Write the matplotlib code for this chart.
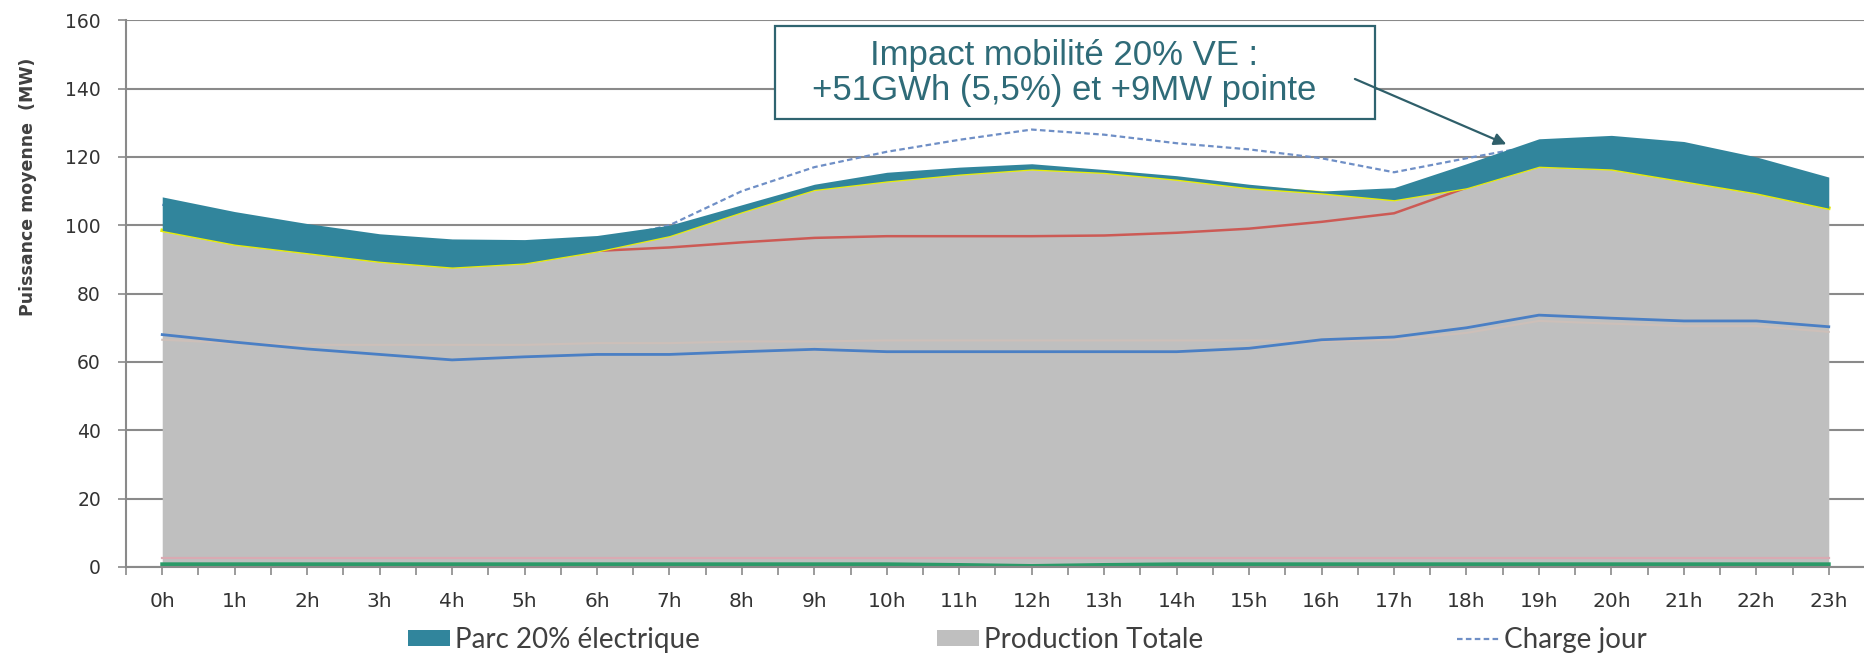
import matplotlib.pyplot as plt
from matplotlib.patches import Patch, Rectangle
from matplotlib.lines import Line2D

# Données (MW)
heures = list(range(24))
etiquettes = [f"{h}h" for h in heures]

production_totale = [98.5, 94.5, 92.0, 89.5, 87.8, 89.0, 92.5, 97.0, 104.0, 110.5, 113.0, 115.0,
                     116.5, 115.5, 113.5, 111.0, 109.5, 107.5, 111.0, 117.3, 116.5, 113.0, 109.5, 105.0]
parc_20_total = [108.3, 104.0, 100.5, 97.5, 96.0, 95.8, 97.0, 100.0, 106.0, 112.0, 115.5, 117.0,
                 118.0, 116.3, 114.5, 112.0, 110.0, 111.0, 118.0, 125.3, 126.3, 124.5, 120.0, 114.1]
charge_jour = [106.0, 102.0, 98.5, 95.5, 94.0, 94.0, 95.0, 100.0, 110.0, 117.0, 121.5, 125.0,
               128.0, 126.5, 124.0, 122.2, 119.6, 115.5, 119.6, 123.5, 124.0, 122.0, 117.0, 111.0]
serie_rouge = [98.5, 94.5, 92.0, 89.5, 87.8, 89.0, 92.5, 93.5, 95.0, 96.3, 96.8, 96.8,
               96.8, 97.0, 97.8, 99.0, 101.0, 103.5, 111.0, 117.3, 116.5, 113.0, 109.5, 105.0]
serie_bleue = [68.0, 65.8, 63.8, 62.2, 60.6, 61.5, 62.2, 62.2, 63.0, 63.7, 63.0, 63.0,
               63.0, 63.0, 63.0, 64.0, 66.5, 67.3, 70.0, 73.7, 72.8, 72.0, 72.0, 70.3]
serie_peche = [66.5, 65.5, 65.0, 65.0, 65.0, 65.0, 65.5, 65.5, 66.0, 66.0, 66.3, 66.3,
               66.3, 66.3, 66.3, 66.3, 66.0, 66.5, 68.5, 72.0, 71.2, 70.5, 70.5, 68.8]
serie_rose = [2.5] * 24
serie_verte = [0.8, 0.8, 0.8, 0.8, 0.8, 0.8, 0.8, 0.8, 0.8, 0.8, 0.8, 0.6,
               0.3, 0.6, 0.8, 0.8, 0.8, 0.8, 0.8, 0.8, 0.8, 0.8, 0.8, 0.8]

gris_axe = '#8a8a8a'
teal = '#31859c'

fig = plt.figure(figsize=(18.65, 6.54), dpi=100)
ax = fig.add_axes([126 / 1865, 1 - 567 / 654, 1 - 126 / 1865, (567 - 20.2) / 654])

ax.fill_between(heures, 0, production_totale, color='#bfbfbf', lw=0, zorder=1)
ax.plot(heures, serie_peche, color='#cdbfb9', lw=1.5, zorder=2)
ax.plot(heures, serie_bleue, color='#4a7fc4', lw=2.0, zorder=2)
ax.plot(heures, serie_rose, color='#d9aab2', lw=1.6, zorder=2)
ax.plot(heures, serie_verte, color='#2a9a68', lw=2.8, zorder=2)
ax.plot(heures, serie_rouge, color='#cc5a55', lw=1.8, zorder=2)
ax.plot(heures, production_totale, color='#e6ee08', lw=2.6, zorder=2)
ax.plot(heures, charge_jour, color='#6f8fc6', lw=1.6, ls=(0, (2.5, 1.5)), zorder=3)
ax.fill_between(heures, production_totale, parc_20_total, color=teal, lw=0, zorder=4)

ax.set_xlim(-0.5, 23.24)
ax.set_ylim(0, 160)
ax.set_yticks(range(0, 161, 20))
ax.set_xticks(heures)
ax.set_xticklabels(etiquettes)
ax.set_xticks([h + 0.5 for h in range(-1, 24)], minor=True)
ax.yaxis.grid(True, color=gris_axe, lw=1.5)
ax.set_axisbelow(True)

for s in ['top', 'right']:
    ax.spines[s].set_visible(False)
for s in ['left', 'bottom']:
    ax.spines[s].set_color(gris_axe)
    ax.spines[s].set_linewidth(1.5)

ax.tick_params(axis='y', length=6, width=1.2, color=gris_axe, labelsize=13.5, pad=12, labelcolor='#333333')
ax.tick_params(axis='x', which='both', length=6, width=1.2, color=gris_axe)
ax.tick_params(axis='x', labelsize=14.5, pad=12, labelcolor='#333333')

fig.text(28 / 1865, 1 - 187 / 654, 'Puissance moyenne  (MW)', rotation=90, ha='center', va='center',
         fontsize=12.5, fontweight='bold', color='#404040')

# Encadré
ax.add_patch(Rectangle((8.45, 131), 8.29, 27.2, facecolor='white', edgecolor='#2f6470',
                       lw=1.6, zorder=6, clip_on=False))
ax.text(12.45, 144.6, 'Impact mobilité 20% VE :\n+51GWh (5,5%) et +9MW pointe', ha='center', va='center',
        fontsize=25, family='Liberation Sans', color='#2f6b78', linespacing=1.06, zorder=7)
ax.annotate('', xy=(18.55, 123.7), xytext=(16.46, 142.8),
            arrowprops=dict(arrowstyle='-|>', color='#2f5f6a', lw=1.6, mutation_scale=18,
                            shrinkA=0, shrinkB=0), zorder=8)

# Légende
entrees = [
    (Patch(facecolor=teal), 'Parc 20% électrique', 408),
    (Patch(facecolor='#bfbfbf'), 'Production Totale', 937),
    (Line2D([], [], color='#6f8fc6', lw=1.6, ls=(0, (2.5, 1.5))), 'Charge jour', 1457),
]
for poignee, texte, x0 in entrees:
    fig.legend(handles=[poignee], labels=[texte], loc='center left', bbox_to_anchor=(x0 / 1865, 1 - 640 / 654),
               frameon=False, borderpad=0, borderaxespad=0, handlelength=1.5, handleheight=0.5,
               handletextpad=0.2, prop={'family': 'Lato', 'size': 20}, labelcolor='#404040')

fig.savefig('out.png', dpi=100)
